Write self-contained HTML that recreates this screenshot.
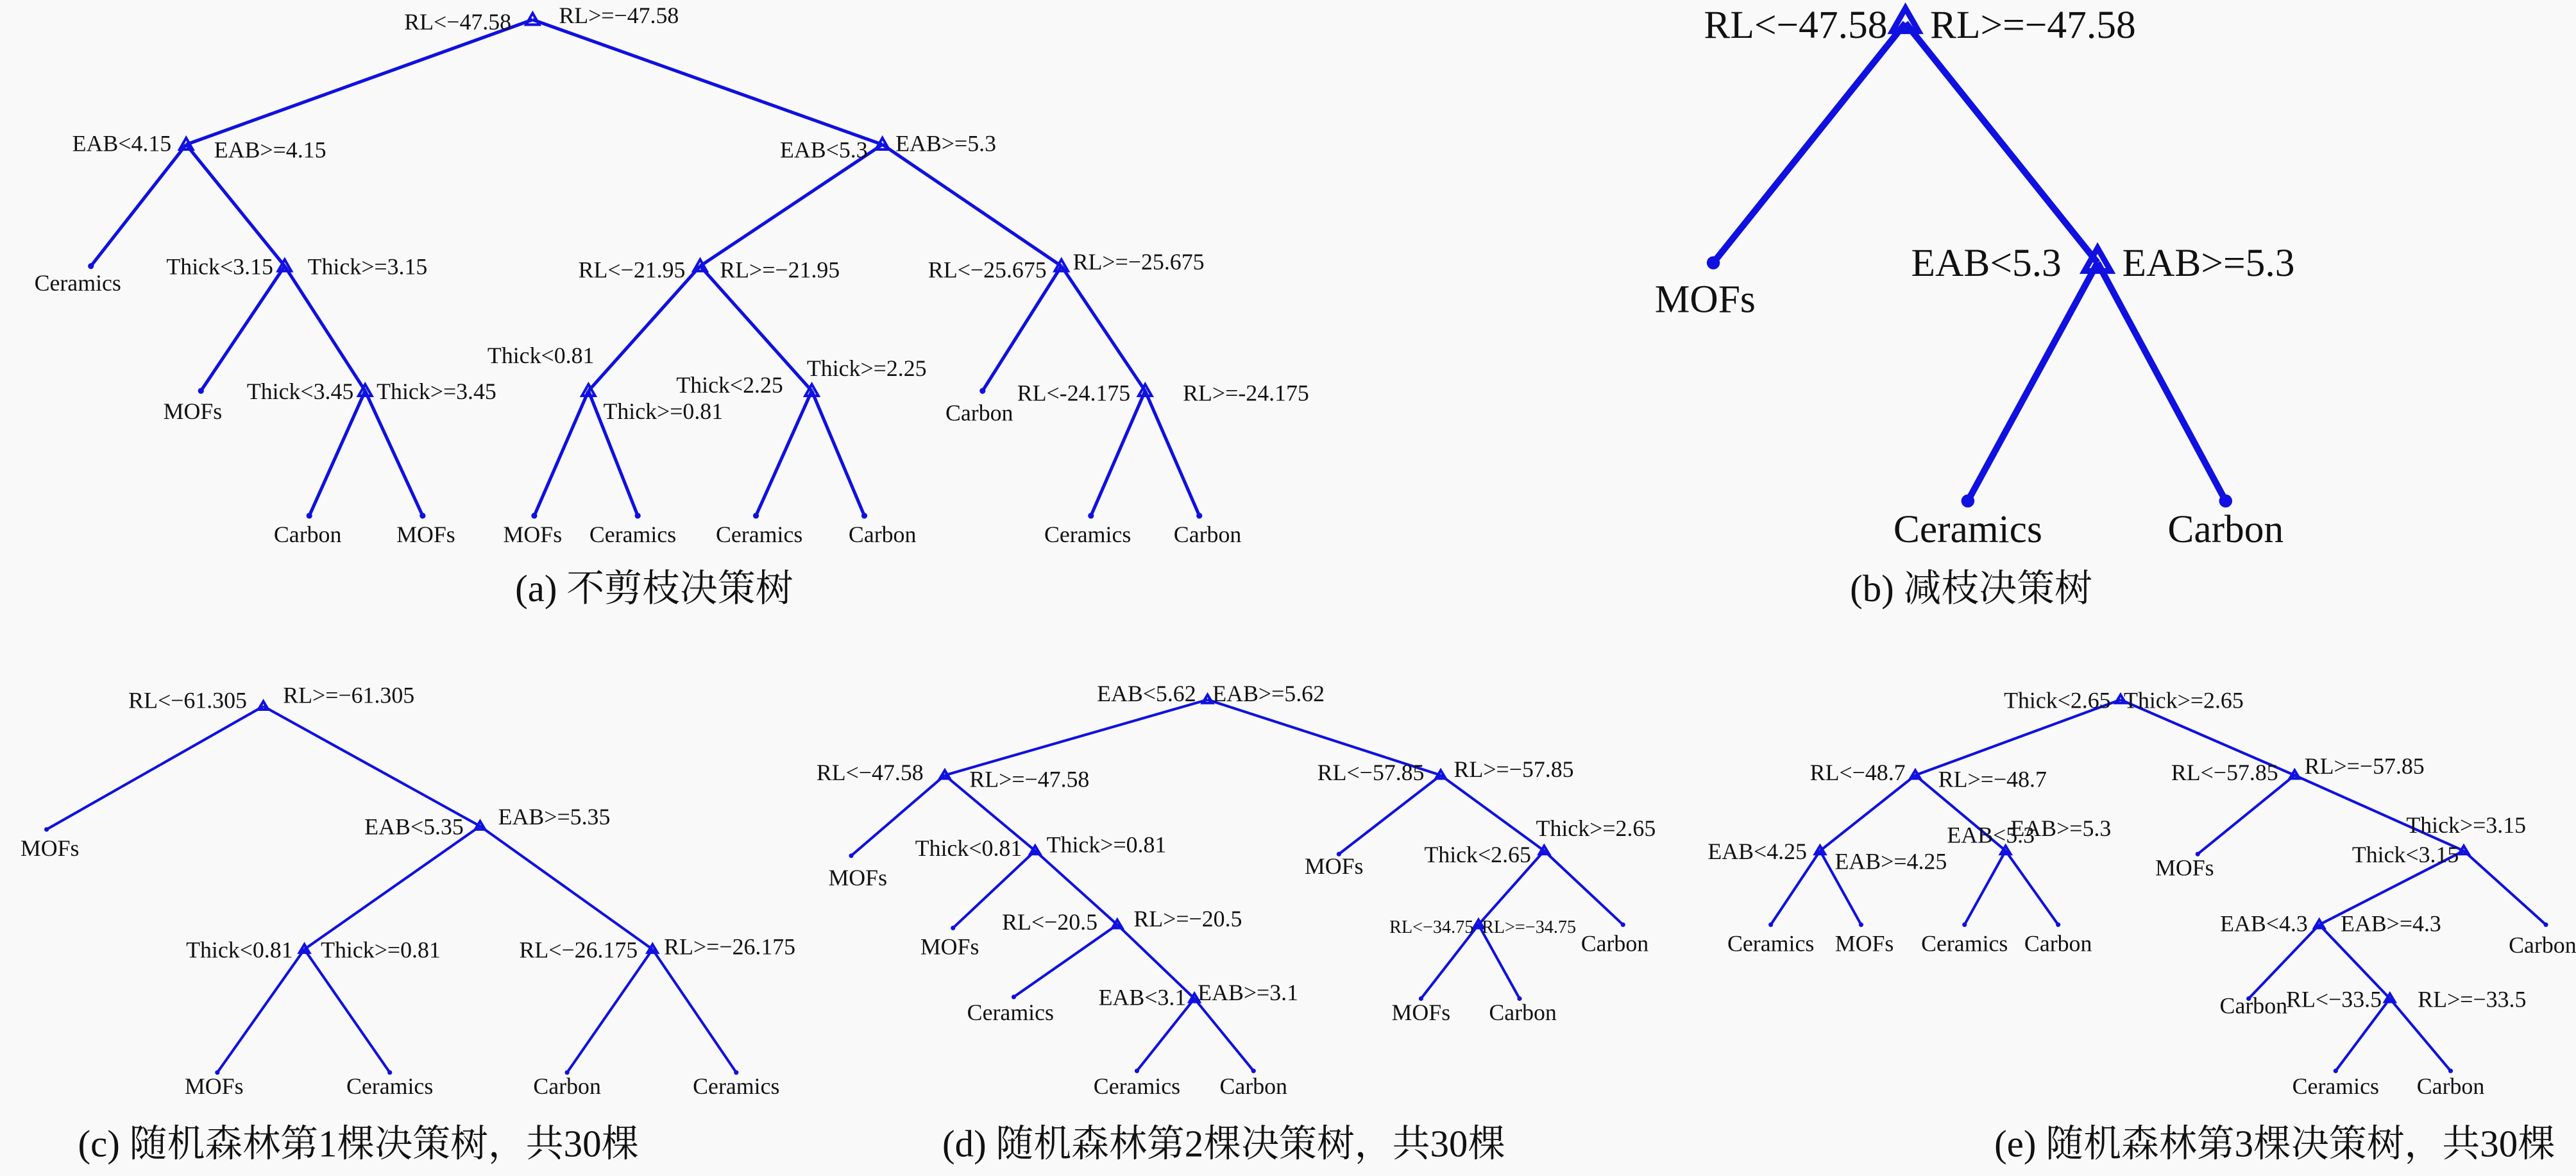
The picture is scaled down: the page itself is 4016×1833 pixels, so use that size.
<!DOCTYPE html>
<html><head><meta charset="utf-8"><style>
html,body{margin:0;padding:0;background:#f9f9f9;}
svg{display:block}
text{font-family:"Liberation Serif","Noto Serif CJK SC","Noto Sans CJK SC",serif;fill:#111;}
.s{font-size:14px}.m{font-size:11px}.c{font-size:23px}.b{font-size:24px}
</style></head><body>
<svg width="4016" height="1833" viewBox="0 0 1568 716" xmlns="http://www.w3.org/2000/svg">
<rect width="1568" height="716" fill="#f9f9f9"/>
<!-- (a) -->
<g stroke="#1010e0" stroke-width="2" fill="none">
<path d="M324,12L113,88M324,12L537,88M113,88L55,162M113,88L173,162M173,162L122,238M173,162L222,238M222,238L188,314M222,238L257,314M537,88L426,162M537,88L646,162M426,162L358,238M426,162L494,238M358,238L325,314M358,238L388,314M494,238L460,314M494,238L526,314M646,162L598,238M646,162L697,238M697,238L664,314M697,238L730,314"/>
<g stroke-width="1.6"><path d="M324,8l-4,7h8z M113,84l-4,7h8z M173,158l-4,7h8z M222,234l-4,7h8z M537,84l-4,7h8z M426,158l-4,7h8z M358,234l-4,7h8z M494,234l-4,7h8z M646,158l-4,7h8z M697,234l-4,7h8z"/></g>
</g>
<g fill="#1010e0"><circle cx="55" cy="162" r="1.8"/><circle cx="122" cy="238" r="1.8"/><circle cx="188" cy="314" r="1.8"/><circle cx="257" cy="314" r="1.8"/><circle cx="325" cy="314" r="1.8"/><circle cx="388" cy="314" r="1.8"/><circle cx="460" cy="314" r="1.8"/><circle cx="526" cy="314" r="1.8"/><circle cx="598" cy="238" r="1.8"/><circle cx="664" cy="314" r="1.8"/><circle cx="730" cy="314" r="1.8"/></g>
<g class="s">
<text x="311" y="18" text-anchor="end">RL&lt;−47.58</text><text x="340" y="14">RL&gt;=−47.58</text>
<text x="104" y="92" text-anchor="end">EAB&lt;4.15</text><text x="130" y="96">EAB&gt;=4.15</text>
<text x="47" y="177" text-anchor="middle">Ceramics</text>
<text x="166" y="167" text-anchor="end">Thick&lt;3.15</text><text x="187" y="167">Thick&gt;=3.15</text>
<text x="117" y="255" text-anchor="middle">MOFs</text>
<text x="215" y="243" text-anchor="end">Thick&lt;3.45</text><text x="229" y="243">Thick&gt;=3.45</text>
<text x="187" y="330" text-anchor="middle">Carbon</text><text x="259" y="330" text-anchor="middle">MOFs</text>
<text x="528" y="96" text-anchor="end">EAB&lt;5.3</text><text x="545" y="92">EAB&gt;=5.3</text>
<text x="417" y="169" text-anchor="end">RL&lt;−21.95</text><text x="438" y="169">RL&gt;=−21.95</text>
<text x="329" y="221" text-anchor="middle">Thick&lt;0.81</text><text x="367" y="255">Thick&gt;=0.81</text>
<text x="444" y="239" text-anchor="middle">Thick&lt;2.25</text><text x="491" y="229">Thick&gt;=2.25</text>
<text x="324" y="330" text-anchor="middle">MOFs</text><text x="385" y="330" text-anchor="middle">Ceramics</text>
<text x="462" y="330" text-anchor="middle">Ceramics</text><text x="537" y="330" text-anchor="middle">Carbon</text>
<text x="637" y="169" text-anchor="end">RL&lt;−25.675</text><text x="653" y="164">RL&gt;=−25.675</text>
<text x="596" y="256" text-anchor="middle">Carbon</text>
<text x="688" y="244" text-anchor="end">RL&lt;-24.175</text><text x="720" y="244">RL&gt;=-24.175</text>
<text x="662" y="330" text-anchor="middle">Ceramics</text><text x="735" y="330" text-anchor="middle">Carbon</text>
</g>
<text class="c" x="398" y="366" text-anchor="middle">(a) 不剪枝决策树</text>
<!-- (b) -->
<g stroke="#1010e0" stroke-width="4" fill="none">
<path d="M1160,14L1043,160M1160,14L1277,160M1277,160L1198,305M1277,160L1355,305"/>
<path stroke-width="3.5" d="M1160,5l-8,14h16z M1277,151l-8,14h16z"/>
</g>
<g fill="#1010e0"><circle cx="1043" cy="160" r="4"/><circle cx="1198" cy="305" r="4"/><circle cx="1355" cy="305" r="4"/></g>
<g class="b">
<text x="1149" y="23" text-anchor="end">RL&lt;−47.58</text><text x="1175" y="23">RL&gt;=−47.58</text>
<text x="1038" y="190" text-anchor="middle">MOFs</text>
<text x="1255" y="168" text-anchor="end">EAB&lt;5.3</text><text x="1292" y="168">EAB&gt;=5.3</text>
<text x="1198" y="330" text-anchor="middle">Ceramics</text><text x="1355" y="330" text-anchor="middle">Carbon</text>
</g>
<text class="c" x="1200" y="366" text-anchor="middle">(b) 减枝决策树</text>
<!-- (c) -->
<g stroke="#1010e0" stroke-width="1.6" fill="none">
<path d="M160,430L28,505M160,430L292,503M292,503L185,578M292,503L397,578M185,578L132,653M185,578L237,653M397,578L345,653M397,578L448,653"/>
<path d="M160,427l-3,5h6z M292,500l-3,5h6z M185,575l-3,5h6z M397,575l-3,5h6z"/>
<!-- (d) -->
<path d="M735,426L575,472M735,426L877,472M575,472L518,521M575,472L630,518M630,518L580,565M630,518L680,563M680,563L617,607M680,563L727,608M727,608L692,652M727,608L763,652M877,472L815,520M877,472L940,518M940,518L900,563M940,518L988,563M900,563L865,608M900,563L925,608"/>
<path d="M735,423l-3,5h6z M575,469l-3,5h6z M630,515l-3,5h6z M680,560l-3,5h6z M727,605l-3,5h6z M877,469l-3,5h6z M940,515l-3,5h6z M900,560l-3,5h6z"/>
<!-- (e) -->
<path d="M1291,426L1166,472M1291,426L1397,472M1166,472L1108,518M1166,472L1221,518M1108,518L1078,563M1108,518L1133,563M1221,518L1196,563M1221,518L1253,563M1397,472L1338,520M1397,472L1500,518M1500,518L1412,563M1500,518L1550,563M1412,563L1369,608M1412,563L1455,608M1455,608L1422,652M1455,608L1492,652"/>
<path d="M1291,423l-3,5h6z M1166,469l-3,5h6z M1108,515l-3,5h6z M1221,515l-3,5h6z M1397,469l-3,5h6z M1500,515l-3,5h6z M1412,560l-3,5h6z M1455,605l-3,5h6z"/>
</g>
<g fill="#1010e0">
<circle cx="28" cy="505" r="1.4"/><circle cx="132" cy="653" r="1.4"/><circle cx="237" cy="653" r="1.4"/><circle cx="345" cy="653" r="1.4"/><circle cx="448" cy="653" r="1.4"/>
<circle cx="518" cy="521" r="1.4"/><circle cx="580" cy="565" r="1.4"/><circle cx="617" cy="607" r="1.4"/><circle cx="692" cy="652" r="1.4"/><circle cx="763" cy="652" r="1.4"/><circle cx="815" cy="520" r="1.4"/><circle cx="988" cy="563" r="1.4"/><circle cx="865" cy="608" r="1.4"/><circle cx="925" cy="608" r="1.4"/>
<circle cx="1078" cy="563" r="1.4"/><circle cx="1133" cy="563" r="1.4"/><circle cx="1196" cy="563" r="1.4"/><circle cx="1253" cy="563" r="1.4"/><circle cx="1338" cy="520" r="1.4"/><circle cx="1550" cy="563" r="1.4"/><circle cx="1369" cy="608" r="1.4"/><circle cx="1422" cy="652" r="1.4"/><circle cx="1492" cy="652" r="1.4"/>
</g>
<g class="s">
<text x="150" y="431" text-anchor="end">RL&lt;−61.305</text><text x="172" y="428">RL&gt;=−61.305</text>
<text x="30" y="521" text-anchor="middle">MOFs</text>
<text x="282" y="508" text-anchor="end">EAB&lt;5.35</text><text x="303" y="502">EAB&gt;=5.35</text>
<text x="178" y="583" text-anchor="end">Thick&lt;0.81</text><text x="195" y="583">Thick&gt;=0.81</text>
<text x="388" y="583" text-anchor="end">RL&lt;−26.175</text><text x="404" y="581">RL&gt;=−26.175</text>
<text x="130" y="666" text-anchor="middle">MOFs</text><text x="237" y="666" text-anchor="middle">Ceramics</text><text x="345" y="666" text-anchor="middle">Carbon</text><text x="448" y="666" text-anchor="middle">Ceramics</text>

<text x="728" y="427" text-anchor="end">EAB&lt;5.62</text><text x="738" y="427">EAB&gt;=5.62</text>
<text x="562" y="475" text-anchor="end">RL&lt;−47.58</text><text x="590" y="479">RL&gt;=−47.58</text>
<text x="522" y="539" text-anchor="middle">MOFs</text>
<text x="622" y="521" text-anchor="end">Thick&lt;0.81</text><text x="637" y="519">Thick&gt;=0.81</text>
<text x="578" y="581" text-anchor="middle">MOFs</text>
<text x="668" y="566" text-anchor="end">RL&lt;−20.5</text><text x="690" y="564">RL&gt;=−20.5</text>
<text x="615" y="621" text-anchor="middle">Ceramics</text>
<text x="722" y="612" text-anchor="end">EAB&lt;3.1</text><text x="729" y="609">EAB&gt;=3.1</text>
<text x="692" y="666" text-anchor="middle">Ceramics</text><text x="763" y="666" text-anchor="middle">Carbon</text>
<text x="867" y="475" text-anchor="end">RL&lt;−57.85</text><text x="885" y="473">RL&gt;=−57.85</text>
<text x="812" y="532" text-anchor="middle">MOFs</text>
<text x="935" y="509">Thick&gt;=2.65</text><text x="932" y="525" text-anchor="end">Thick&lt;2.65</text>
<text x="983" y="579" text-anchor="middle">Carbon</text>
<text x="865" y="621" text-anchor="middle">MOFs</text><text x="927" y="621" text-anchor="middle">Carbon</text>

<text x="1285" y="431" text-anchor="end">Thick&lt;2.65</text><text x="1293" y="431">Thick&gt;=2.65</text>
<text x="1160" y="475" text-anchor="end">RL&lt;−48.7</text><text x="1180" y="479">RL&gt;=−48.7</text>
<text x="1100" y="523" text-anchor="end">EAB&lt;4.25</text><text x="1117" y="529">EAB&gt;=4.25</text>
<text x="1212" y="513" text-anchor="middle">EAB&lt;5.3</text><text x="1224" y="509">EAB&gt;=5.3</text>
<text x="1078" y="579" text-anchor="middle">Ceramics</text><text x="1135" y="579" text-anchor="middle">MOFs</text><text x="1196" y="579" text-anchor="middle">Ceramics</text><text x="1253" y="579" text-anchor="middle">Carbon</text>
<text x="1387" y="475" text-anchor="end">RL&lt;−57.85</text><text x="1403" y="471">RL&gt;=−57.85</text>
<text x="1330" y="533" text-anchor="middle">MOFs</text>
<text x="1465" y="507">Thick&gt;=3.15</text><text x="1497" y="525" text-anchor="end">Thick&lt;3.15</text>
<text x="1548" y="580" text-anchor="middle">Carbon</text>
<text x="1405" y="567" text-anchor="end">EAB&lt;4.3</text><text x="1425" y="567">EAB&gt;=4.3</text>
<text x="1372" y="617" text-anchor="middle">Carbon</text>
<text x="1450" y="613" text-anchor="end">RL&lt;−33.5</text><text x="1472" y="613">RL&gt;=−33.5</text>
<text x="1422" y="666" text-anchor="middle">Ceramics</text><text x="1492" y="666" text-anchor="middle">Carbon</text>
</g>
<g class="m">
<text x="897" y="568" text-anchor="end">RL&lt;−34.75</text><text x="902" y="568">RL&gt;=−34.75</text>
</g>
<text class="c" x="218" y="704" text-anchor="middle">(c) 随机森林第1棵决策树，共30棵</text>
<text class="c" x="745" y="704" text-anchor="middle">(d) 随机森林第2棵决策树，共30棵</text>
<text class="c" x="1385" y="704" text-anchor="middle">(e) 随机森林第3棵决策树，共30棵</text>
</svg>
</body></html>
